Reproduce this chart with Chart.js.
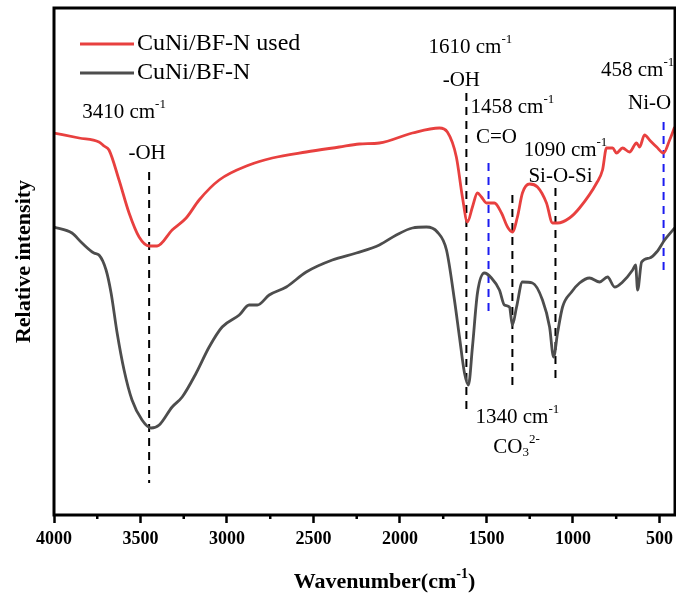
<!DOCTYPE html>
<html>
<head>
<meta charset="utf-8">
<script src="https://cdn.jsdelivr.net/npm/chart.js@4"></script>
<style>
  html, body { margin: 0; padding: 0; background: #fff; }
  canvas { display: block; }
</style>
</head>
<body>
<canvas id="ftirChart" width="676" height="599"></canvas>
<script>
// FTIR spectra, wavenumber (cm-1) vs relative intensity (arbitrary units)
const wavenumberUsed = [4000, 3855, 3740, 3711, 3682, 3624, 3566, 3508, 3450, 3404, 3317, 3236, 3161, 3045, 2872, 2738, 2542, 2351, 2235, 2119, 1928, 1772, 1726, 1674, 1639, 1610, 1581, 1552, 1529, 1500, 1454, 1413, 1378, 1350, 1321, 1292, 1251, 1205, 1153, 1118, 1089, 1020, 962, 863, 829, 806, 771, 748, 713, 673, 632, 615, 586, 557, 516, 476, 441, 412];
const intensityUsed = [382, 377, 373, 369, 365, 335, 302, 278, 269, 269, 285, 297, 315, 335, 350, 357, 363, 368, 371, 372, 382, 387, 383, 358, 318, 293, 308, 322, 318, 312, 312, 302, 288, 283, 298, 322, 331, 328, 312, 292, 292, 297, 307, 332, 345, 367, 367, 362, 367, 363, 372, 368, 380, 375, 368, 362, 375, 388];

const wavenumberFresh = [4000, 3896, 3838, 3769, 3740, 3699, 3670, 3635, 3595, 3549, 3491, 3439, 3392, 3317, 3259, 3178, 3103, 3028, 2929, 2872, 2825, 2756, 2657, 2542, 2391, 2252, 2119, 2021, 1928, 1847, 1784, 1731, 1685, 1656, 1627, 1604, 1581, 1552, 1512, 1471, 1425, 1396, 1367, 1350, 1326, 1292, 1234, 1176, 1135, 1112, 1089, 1060, 1008, 962, 904, 846, 800, 759, 713, 655, 638, 626, 603, 557, 516, 470, 412];
const intensityFresh = [288, 282, 272, 262, 260, 245, 222, 182, 145, 115, 95, 87, 90, 108, 118, 142, 168, 188, 200, 210, 210, 220, 228, 243, 255, 262, 270, 280, 287, 288, 283, 265, 215, 178, 142, 130, 168, 222, 242, 237, 225, 210, 208, 190, 208, 233, 232, 215, 188, 158, 182, 208, 223, 232, 237, 233, 238, 228, 233, 245, 250, 225, 253, 257, 263, 275, 287];

const xTicks = [4000, 3500, 3000, 2500, 2000, 1500, 1000, 500];
const xMinorTicks = [3750, 3250, 2750, 2250, 1750, 1250, 750];

// peak marker lines: wavenumber, top and bottom intensity
const peakWn = [3450, 1616, 1488, 1350, 1101, 476];
const peakTop = [343, 422, 352, 320, 327, 393];
const peakBottom = [32, 105, 200, 125, 132, 245];
const peakBlue = [false, false, true, false, false, true];

// peak labels
const peakLabels = [
  { parts: [['3410 cm'], ['-1', 'sup']], wn: 3595, y: 403 },
  { parts: [['-OH']], wn: 3462, y: 362 },
  { parts: [['1610 cm'], ['-1', 'sup']], wn: 1593, y: 468 },
  { parts: [['-OH']], wn: 1645, y: 435 },
  { parts: [['1458 cm'], ['-1', 'sup']], wn: 1350, y: 408 },
  { parts: [['C=O']], wn: 1442, y: 378 },
  { parts: [['1090 cm'], ['-1', 'sup']], wn: 1043, y: 365 },
  { parts: [['Si-O-Si']], wn: 1072, y: 339 },
  { parts: [['458 cm'], ['-1', 'sup']], wn: 626, y: 445 },
  { parts: [['Ni-O']], wn: 557, y: 412 },
  { parts: [['1340 cm'], ['-1', 'sup']], wn: 1321, y: 98 },
  { parts: [['CO'], ['3', 'sub'], ['2-', 'sup']], wn: 1326, y: 68 }
];

const SERIF = '"Liberation Serif", "Times New Roman", serif';

function toPoints(xs, ys) {
  return xs.map((x, i) => ({ x: x, y: ys[i] }));
}

// draw text with sub/superscripts centred on cx, cy
function drawRich(ctx, parts, cx, cy, size, weight) {
  const small = Math.round(size * 0.62);
  const w = weight || 'normal';
  let total = 0;
  const widths = parts.map(p => {
    ctx.font = w + ' ' + (p[1] ? small : size) + 'px ' + SERIF;
    const m = ctx.measureText(p[0]).width;
    total += m;
    return m;
  });
  let x = cx - total / 2;
  ctx.textAlign = 'left';
  ctx.textBaseline = 'middle';
  parts.forEach((p, i) => {
    let dy = 0;
    if (p[1] === 'sup') dy = -size * 0.36;
    if (p[1] === 'sub') dy = size * 0.28;
    ctx.font = w + ' ' + (p[1] ? small : size) + 'px ' + SERIF;
    ctx.fillText(p[0], x, cy + dy);
    x += widths[i];
  });
}

const markerSets = peakWn.map((wn, i) => ({
  data: [{ x: wn, y: peakTop[i] }, { x: wn, y: peakBottom[i] }],
  borderColor: peakBlue[i] ? '#1c1cf0' : '#000',
  borderWidth: 2,
  borderDash: [8, 6],
  pointRadius: 0,
  isMarker: true
}));

const decorPlugin = {
  id: 'decor',
  afterDraw(chart) {
    const ctx = chart.ctx;
    const area = chart.chartArea;
    const xs = chart.scales.x;
    const ys = chart.scales.y;
    ctx.save();
    ctx.fillStyle = '#000';
    ctx.strokeStyle = '#000';

    // minor ticks
    ctx.lineWidth = 2.5;
    xMinorTicks.forEach(v => {
      const px = xs.getPixelForValue(v);
      ctx.beginPath();
      ctx.moveTo(px, area.bottom);
      ctx.lineTo(px, area.bottom + 4);
      ctx.stroke();
    });

    // frame
    ctx.lineWidth = 3;
    ctx.strokeRect(area.left, area.top, area.right - area.left, area.bottom - area.top);

    // peak labels
    peakLabels.forEach(l => {
      drawRich(ctx, l.parts, xs.getPixelForValue(l.wn), ys.getPixelForValue(l.y), 21);
    });

    // legend
    const used = chart.data.datasets.filter(d => !d.isMarker);
    used.forEach((d, i) => {
      const ly = 44 + i * 29;
      ctx.strokeStyle = d.borderColor;
      ctx.lineWidth = 3;
      ctx.beginPath();
      ctx.moveTo(80, ly);
      ctx.lineTo(134, ly);
      ctx.stroke();
      ctx.fillStyle = '#000';
      ctx.font = '24px ' + SERIF;
      ctx.textAlign = 'left';
      ctx.textBaseline = 'middle';
      ctx.fillText(d.label, 137, ly);
    });

    // x axis title
    drawRich(ctx, [['Wavenumber(cm'], ['-1', 'sup'], [')']], (area.left + area.right) / 2 + 20, 582, 22, 'bold');
    ctx.restore();
  }
};

new Chart(document.getElementById('ftirChart'), {
  type: 'line',
  data: {
    datasets: [
      {
        label: 'CuNi/BF-N used',
        data: toPoints(wavenumberUsed, intensityUsed),
        borderColor: '#e8403f',
        borderWidth: 2.8,
        pointRadius: 0,
        cubicInterpolationMode: 'monotone'
      },
      {
        label: 'CuNi/BF-N',
        data: toPoints(wavenumberFresh, intensityFresh),
        borderColor: '#4d4d4d',
        borderWidth: 2.8,
        pointRadius: 0,
        cubicInterpolationMode: 'monotone'
      },
      ...markerSets
    ]
  },
  options: {
    responsive: false,
    devicePixelRatio: 1,
    animation: false,
    events: [],
    layout: { padding: { left: 0, top: 8, right: 1, bottom: 0 } },
    plugins: {
      legend: { display: false },
      tooltip: { enabled: false }
    },
    scales: {
      x: {
        type: 'linear',
        reverse: true,
        min: 410,
        max: 4000,
        afterBuildTicks: s => { s.ticks = xTicks.map(v => ({ value: v })); },
        afterFit: s => { s.height = 84; s.paddingLeft = 0; s.paddingRight = 0; },
        border: { display: false },
        grid: {
          drawOnChartArea: false,
          drawTicks: true,
          tickLength: 8,
          tickWidth: 2.5,
          tickColor: '#000'
        },
        ticks: {
          color: '#000',
          padding: 6,
          maxRotation: 0,
          callback: v => String(v),
          font: { family: SERIF, size: 18, weight: 'bold' }
        }
      },
      y: {
        min: 0,
        max: 507,
        afterFit: s => { s.width = 54; },
        border: { display: false },
        grid: { display: false },
        ticks: { display: false },
        title: {
          display: true,
          text: 'Relative intensity',
          color: '#000',
          padding: { top: 11, bottom: 0 },
          font: { family: SERIF, size: 22, weight: 'bold' }
        }
      }
    }
  },
  plugins: [decorPlugin]
});
</script>
</body>
</html>
